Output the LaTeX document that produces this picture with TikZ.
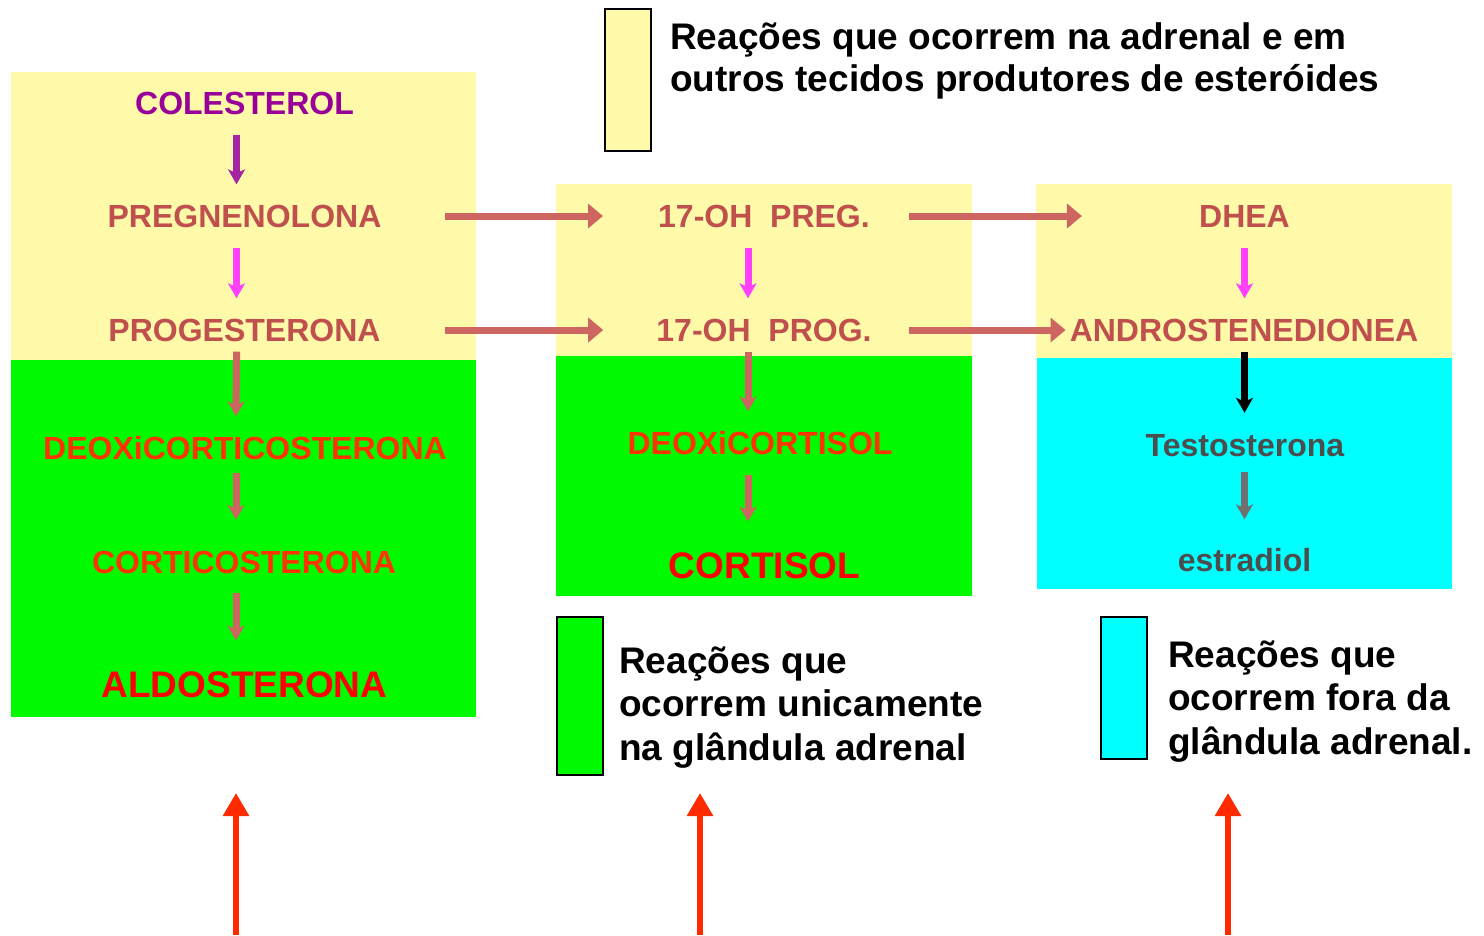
\documentclass[tikz,border=0pt]{standalone}
\usepackage{fontspec}
\setmainfont{Liberation Sans}
\usetikzlibrary{arrows.meta,positioning}
\definecolor{fundoam}{HTML}{FFFAAA}
\definecolor{verde}{HTML}{00FA00}
\definecolor{ciano}{HTML}{00FFFF}
\definecolor{roxo}{HTML}{990099}
\definecolor{roxoseta}{HTML}{A424A4}
\definecolor{rosa}{HTML}{C0504D}
\definecolor{rosaseta}{HTML}{CD6660}
\definecolor{magenta2}{HTML}{FF40FF}
\definecolor{laranja}{HTML}{FF3300}
\definecolor{vermelho}{HTML}{FF2A00}
\definecolor{cinza}{HTML}{4D4D4D}
\definecolor{cinzaseta}{HTML}{707070}
\tikzset{
  chem/.style = {font=\bfseries\fontsize{32}{38}\selectfont, text height=23pt,
    text depth=0pt, inner xsep=0pt, inner ysep=20pt},% nome de hormonio
  chem_g/.style = {chem, font=\bfseries\fontsize{37}{44}\selectfont,
    text height=26.5pt, inner ysep=30pt},% produto final
  seta_b/.style = {line width=7pt, -{Stealth[length=15pt,width=17pt,inset=4pt]}},% seta para baixo
  seta_h/.style = {line width=7pt, draw=rosaseta, -{Triangle[length=15pt,width=24pt]}},% seta horizontal
  seta_c/.style = {line width=6pt, draw=vermelho, -{Triangle[length=23pt,width=25pt]}},% seta para cima
  legenda/.style = {draw=black, line width=2pt, minimum width=46pt,
    minimum height=142pt, inner sep=0pt},
  legtexto/.style = {font=\bfseries\fontsize{37}{42}\selectfont, align=left,
    inner sep=0pt}
}

\begin{document}
\begin{tikzpicture}[x=1pt,y=-1pt]
    \useasboundingbox (0,0) rectangle (1484,935);
    % fundos
    \fill[fundoam] (11,72) rectangle (476,360);
    \fill[verde] (11,360) rectangle (476,717);
    \fill[fundoam] (556,184) rectangle (972,356);
    \fill[verde] (556,356) rectangle (972,596);
    \fill[fundoam] (1036,184) rectangle (1452,358);
    \fill[ciano] (1037,358) rectangle (1452,589);

    % coluna 1
    \node [chem, roxo] (cole) at (244.5,103) {COLESTEROL};
    \node [chem, rosa] (pregn) at (244.5,216) {PREGNENOLONA};
    \node [chem, rosa] (prog) at (244.5,330) {PROGESTERONA};
    \node [chem, laranja] (deoxc) at (245,448) {DEOXiCORTICOSTERONA};
    \node [chem, laranja] (cortic) at (244,561.5) {CORTICOSTERONA};
    \node [chem_g, red] (aldo) at (244.5,684) {ALDOSTERONA};

    % coluna 2
    \node [chem, rosa] (ohpreg) at (764,216) {17-OH\ \ PREG.};
    \node [chem, rosa] (ohprog) at (764,330) {17-OH\ \ PROG.};
    \node [chem, laranja] (deoxcs) at (760,443) {DEOXiCORTISOL};
    \node [chem_g, red] (cortisol) at (764.5,565) {CORTISOL};

    % coluna 3
    \node [chem, rosa] (dhea) at (1244.5,216) {DHEA};
    \node [chem, rosa] (andro) at (1244,330) {ANDROSTENEDIONEA};
    \node [chem, cinza] (testo) at (1245,444.5) {Testosterona};
    \node [chem, cinza] (estr) at (1244.5,560) {estradiol};

    % setas verticais
    \draw[seta_b, draw=roxoseta] ([xshift=-8pt]cole.south) -- ([xshift=-8pt]pregn.north);
    \draw[seta_b, draw=magenta2] ([xshift=-8pt]pregn.south) -- ([xshift=-8pt]prog.north);
    \draw[seta_b, draw=rosaseta, shorten <=-10pt] ([xshift=-8pt]prog.south) -- ([xshift=-9pt]deoxc.north);
    \draw[seta_b, draw=rosaseta, shorten <=-7pt, shorten >=10pt] ([xshift=-9pt]deoxc.south) -- ([xshift=-8pt]cortic.north);
    \draw[seta_b, draw=rosaseta] ([xshift=-8pt]cortic.south) -- ([xshift=-8.5pt]aldo.north);

    \draw[seta_b, draw=magenta2] ([xshift=-16pt]ohpreg.south) -- ([xshift=-16pt]ohprog.north);
    \draw[seta_b, draw=rosaseta, shorten <=-10pt] ([xshift=-16pt]ohprog.south) -- ([xshift=-12pt]deoxcs.north);
    \draw[seta_b, draw=rosaseta] ([xshift=-12pt]deoxcs.south) -- ([xshift=-16.5pt]cortisol.north);

    \draw[seta_b, draw=magenta2] (dhea.south) -- ([xshift=0.5pt]andro.north);
    \draw[seta_b, draw=black, shorten <=-10pt] ([xshift=0.5pt]andro.south) -- ([xshift=-0.5pt]testo.north);
    \draw[seta_b, draw=cinzaseta, shorten <=-4pt, shorten >=9pt] ([xshift=-0.5pt]testo.south) -- (estr.north);

    % setas horizontais
    \draw[seta_h, shorten <=63pt, shorten >=55pt] (pregn.east) -- (ohpreg.west);
    \draw[seta_h, shorten <=64pt, shorten >=53pt] (prog.east) -- (ohprog.west);
    \draw[seta_h, shorten <=39pt, shorten >=117pt] (ohpreg.east) -- (dhea.west);
    \draw[seta_h, shorten <=37pt, shorten >=4pt] (ohprog.east) -- (andro.west);

    % legendas
    \node [legenda, fill=fundoam] (leg_am) at (628,80) {};
    \node [legtexto, right=18pt of leg_am, yshift=19pt] (txt_am)
      {Reações que ocorrem na adrenal e em\\outros tecidos produtores de esteróides};
    \node [legenda, fill=verde, minimum height=158pt] (leg_vd) at (580,696) {};
    \node [legtexto, right=15pt of leg_vd, yshift=-11.5pt,
      font=\bfseries\fontsize{37}{43.5}\selectfont] (txt_vd)
      {Reações que\\ocorrem unicamente\\na glândula adrenal};
    \node [legenda, fill=ciano] (leg_ci) at (1124,688) {};
    \node [legtexto, right=20pt of leg_ci, yshift=-13.5pt,
      font=\bfseries\fontsize{37}{43.5}\selectfont] (txt_ci)
      {Reações que\\ocorrem fora da\\glândula adrenal.};

    % setas vermelhas
    \coordinate (baseA) at (236,935);
    \coordinate (pontaA) at (236,793);
    \coordinate (baseB) at (700,935);
    \coordinate (pontaB) at (700,793);
    \coordinate (baseC) at (1228,935);
    \coordinate (pontaC) at (1228,793);
    \draw[seta_c] (baseA) -- (pontaA);
    \draw[seta_c] (baseB) -- (pontaB);
    \draw[seta_c] (baseC) -- (pontaC);
\end{tikzpicture}
\end{document}
